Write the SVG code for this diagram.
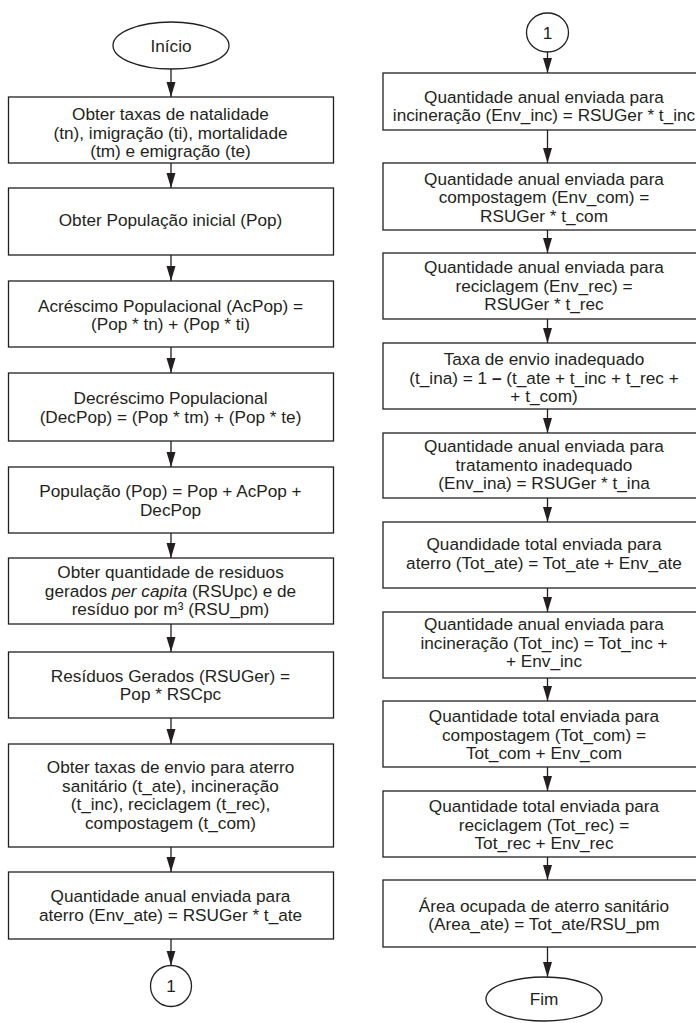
<svg xmlns="http://www.w3.org/2000/svg" width="696" height="1023" viewBox="0 0 696 1023">
<style>
.b{fill:#fff;stroke:#231f20;stroke-width:1.3}
.t{font-family:"Liberation Sans",Arial,sans-serif;font-size:17.2px;fill:#231f20;text-anchor:middle}
.c{stroke:#231f20;stroke-width:1.3;fill:none;marker-end:url(#ah)}
</style>
<defs>
<marker id="ah" markerUnits="userSpaceOnUse" markerWidth="15" markerHeight="10" viewBox="0 0 15 10" refX="15" refY="5" orient="auto">
<path d="M0,0.5 L15,5 L0,9.5 z" fill="#231f20"/>
</marker>
</defs>
<rect width="696" height="1023" fill="#fff"/>
<g id="connectors">
<line class="c" x1="171" y1="69" x2="171" y2="97"/>
<line class="c" x1="171" y1="163" x2="171" y2="188"/>
<line class="c" x1="171" y1="255" x2="171" y2="281"/>
<line class="c" x1="171" y1="347" x2="171" y2="373"/>
<line class="c" x1="171" y1="441" x2="171" y2="467"/>
<line class="c" x1="171" y1="533" x2="171" y2="558"/>
<line class="c" x1="171" y1="624" x2="171" y2="652"/>
<line class="c" x1="171" y1="718" x2="171" y2="744"/>
<line class="c" x1="171" y1="847" x2="171" y2="872"/>
<line class="c" x1="171" y1="939" x2="171" y2="965.5"/>
<line class="c" x1="547.5" y1="52" x2="547.5" y2="73"/>
<line class="c" x1="547.5" y1="130" x2="547.5" y2="163"/>
<line class="c" x1="547.5" y1="230" x2="547.5" y2="253"/>
<line class="c" x1="547.5" y1="319" x2="547.5" y2="343"/>
<line class="c" x1="547.5" y1="409" x2="547.5" y2="433"/>
<line class="c" x1="547.5" y1="498" x2="547.5" y2="522"/>
<line class="c" x1="547.5" y1="588" x2="547.5" y2="612"/>
<line class="c" x1="547.5" y1="678" x2="547.5" y2="701"/>
<line class="c" x1="547.5" y1="767" x2="547.5" y2="791"/>
<line class="c" x1="547.5" y1="857" x2="547.5" y2="880"/>
<line class="c" x1="547.5" y1="947" x2="547.5" y2="977"/>
</g>
<g id="inicio"><ellipse class="b" cx="171" cy="45.5" rx="58" ry="23.5"/><text class="t" x="171" y="51.5">Início</text></g>
<g id="n1"><rect class="b" x="8.5" y="97" width="325" height="66"/><text class="t" x="170.5" y="120">Obter taxas de natalidade</text><text class="t" x="170.5" y="138.5">(tn), imigração (ti), mortalidade</text><text class="t" x="170.5" y="157">(tm) e emigração (te)</text></g>
<g id="n2"><rect class="b" x="8.5" y="188" width="325" height="67"/><text class="t" x="170.5" y="226">Obter População inicial (Pop)</text></g>
<g id="n3"><rect class="b" x="8.5" y="281" width="325" height="66"/><text class="t" x="170.5" y="312">Acréscimo Populacional (AcPop) =</text><text class="t" x="170.5" y="330">(Pop * tn) + (Pop * ti)</text></g>
<g id="n4"><rect class="b" x="8.5" y="373" width="325" height="68"/><text class="t" x="170.5" y="404">Decréscimo Populacional</text><text class="t" x="170.5" y="422.5">(DecPop) = (Pop * tm) + (Pop * te)</text></g>
<g id="n5"><rect class="b" x="8.5" y="467" width="325" height="66"/><text class="t" x="170.5" y="497">População (Pop) = Pop + AcPop +</text><text class="t" x="170.5" y="515.5">DecPop</text></g>
<g id="n6"><rect class="b" x="8.5" y="558" width="325" height="66"/><text class="t" x="170.5" y="578">Obter quantidade de residuos</text><text class="t" x="170.5" y="596.5">gerados <tspan font-style="italic">per capita</tspan> (RSUpc) e de</text><text class="t" x="170.5" y="615">resíduo por m³ (RSU_pm)</text></g>
<g id="n7"><rect class="b" x="8.5" y="652" width="325" height="66"/><text class="t" x="170.5" y="682">Resíduos Gerados (RSUGer) =</text><text class="t" x="170.5" y="700">Pop * RSCpc</text></g>
<g id="n8"><rect class="b" x="8.5" y="744" width="325" height="103"/><text class="t" x="170.5" y="773">Obter taxas de envio para aterro</text><text class="t" x="170.5" y="791.5">sanitário (t_ate), incineração</text><text class="t" x="170.5" y="810">(t_inc), reciclagem (t_rec),</text><text class="t" x="170.5" y="828.5">compostagem (t_com)</text></g>
<g id="n9"><rect class="b" x="8.5" y="872" width="325" height="67"/><text class="t" x="170.5" y="902">Quantidade anual enviada para</text><text class="t" x="170.5" y="920.5">aterro (Env_ate) = RSUGer * t_ate</text></g>
<g id="c1"><circle class="b" cx="171" cy="986" r="20.5"/><text class="t" x="171" y="992">1</text></g>
<g id="c2"><ellipse class="b" cx="547.5" cy="32.5" rx="21" ry="19.5"/><text class="t" x="547.5" y="38.5">1</text></g>
<g id="r1"><rect class="b" x="383" y="73" width="325" height="57"/><text class="t" x="544" y="103">Quantidade anual enviada para</text><text class="t" x="544" y="121">incineração (Env_inc) = RSUGer * t_inc</text></g>
<g id="r2"><rect class="b" x="383" y="163" width="325" height="67"/><text class="t" x="544" y="185">Quantidade anual enviada para</text><text class="t" x="544" y="203">compostagem (Env_com) =</text><text class="t" x="544" y="221.5">RSUGer * t_com</text></g>
<g id="r3"><rect class="b" x="383" y="253" width="325" height="66"/><text class="t" x="544" y="273">Quantidade anual enviada para</text><text class="t" x="544" y="291.5">reciclagem (Env_rec) =</text><text class="t" x="544" y="310">RSUGer * t_rec</text></g>
<g id="r4"><rect class="b" x="383" y="343" width="325" height="66"/><text class="t" x="544" y="365">Taxa de envio inadequado</text><text class="t" x="544" y="383.5">(t_ina) = 1 <tspan font-weight="bold">–</tspan> (t_ate + t_inc + t_rec +</text><text class="t" x="544" y="402">+ t_com)</text></g>
<g id="r5"><rect class="b" x="383" y="433" width="325" height="65"/><text class="t" x="544" y="452">Quantidade anual enviada para</text><text class="t" x="544" y="470.5">tratamento inadequado</text><text class="t" x="544" y="489">(Env_ina) = RSUGer * t_ina</text></g>
<g id="r6"><rect class="b" x="383" y="522" width="325" height="66"/><text class="t" x="544" y="550">Quandidade total enviada para</text><text class="t" x="544" y="568.5">aterro (Tot_ate) = Tot_ate + Env_ate</text></g>
<g id="r7"><rect class="b" x="383" y="612" width="325" height="66"/><text class="t" x="544" y="630">Quantidade anual enviada para</text><text class="t" x="544" y="648.5">incineração (Tot_inc) = Tot_inc +</text><text class="t" x="544" y="667">+ Env_inc</text></g>
<g id="r8"><rect class="b" x="383" y="701" width="325" height="66"/><text class="t" x="544" y="722">Quantidade total enviada para</text><text class="t" x="544" y="740.5">compostagem (Tot_com) =</text><text class="t" x="544" y="759">Tot_com + Env_com</text></g>
<g id="r9"><rect class="b" x="383" y="791" width="325" height="66"/><text class="t" x="544" y="812">Quantidade total enviada para</text><text class="t" x="544" y="830.5">reciclagem (Tot_rec) =</text><text class="t" x="544" y="849">Tot_rec + Env_rec</text></g>
<g id="r10"><rect class="b" x="383" y="880" width="325" height="67"/><text class="t" x="544" y="911.5">Área ocupada de aterro sanitário</text><text class="t" x="544" y="930">(Area_ate) = Tot_ate/RSU_pm</text></g>
<g id="fim"><ellipse class="b" cx="544" cy="999" rx="58" ry="22"/><text class="t" x="544" y="1005">Fim</text></g>
</svg>
